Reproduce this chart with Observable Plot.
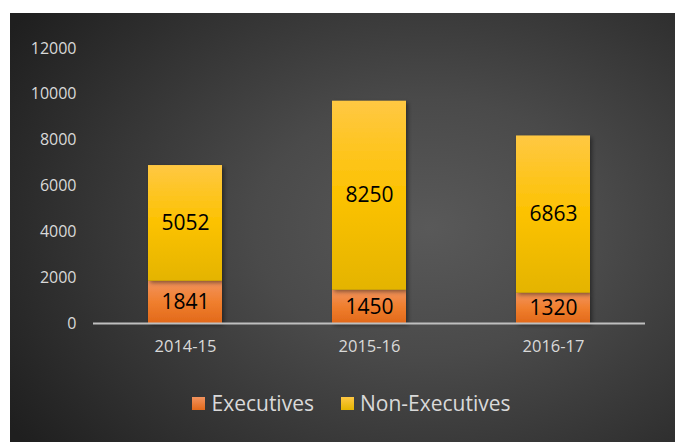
<!DOCTYPE html>
<html>
<head>
<meta charset="utf-8">
<script src="https://cdn.jsdelivr.net/npm/d3@7"></script>
<script src="https://cdn.jsdelivr.net/npm/@observablehq/plot@0.6"></script>
<style>
  html, body { margin: 0; padding: 0; background: #fff; }
  #card {
    position: absolute; left: 10px; top: 13px; width: 665px; height: 429px;
    background: radial-gradient(ellipse 75% 85% at 63% 50%, #595959 0%, #4a4a4a 35%, #333 70%, #1f1f1f 100%);
    font-family: "Open Sans", sans-serif;
    overflow: hidden;
  }
  #legend {
    position: absolute; left: 9px; top: 377px; width: 665px; height: 26px;
    display: flex; justify-content: center; align-items: center; gap: 27px;
    color: #d9d9d9; font-size: 21px;
  }
  #legend .item { display: flex; align-items: center; gap: 6px; }
  #legend .sw { width: 13px; height: 13px; display: inline-block; }
</style>
</head>
<body>
<div id="card"><div id="chart"></div><div id="legend"></div></div>
<script>
const years = ["2014-15", "2015-16", "2016-17"];
const seriesNames = ["Executives", "Non-Executives"];
const executives = [1841, 1450, 1320];
const nonExecutives = [5052, 8250, 6863];
const yTicks = [0, 2000, 4000, 6000, 8000, 10000, 12000];

const data = [];
years.forEach((y, i) => {
  data.push({year: y, series: seriesNames[0], value: executives[i]});
  data.push({year: y, series: seriesNames[1], value: nonExecutives[i]});
});

const defs = () => {
  const g = d3.create("svg:defs");
  const o = g.append("linearGradient").attr("id", "gOrange").attr("x1", 0).attr("y1", 0).attr("x2", 0).attr("y2", 1);
  o.append("stop").attr("offset", "0%").attr("stop-color", "#f2935e");
  o.append("stop").attr("offset", "50%").attr("stop-color", "#f07f2e");
  o.append("stop").attr("offset", "100%").attr("stop-color", "#e2691a");
  const yl = g.append("linearGradient").attr("id", "gYellow").attr("x1", 0).attr("y1", 0).attr("x2", 0).attr("y2", 1);
  yl.append("stop").attr("offset", "0%").attr("stop-color", "#ffc843");
  yl.append("stop").attr("offset", "50%").attr("stop-color", "#fcc200");
  yl.append("stop").attr("offset", "100%").attr("stop-color", "#e4b400");
  const f = g.append("filter").attr("id", "shadow").attr("x", "-20%").attr("y", "-20%").attr("width", "140%").attr("height", "140%");
  f.append("feDropShadow").attr("dx", 2).attr("dy", 2).attr("stdDeviation", 2).attr("flood-color", "#000").attr("flood-opacity", 0.45);
  return g.node();
};

const chart = Plot.plot({
  width: 665,
  height: 370,
  marginLeft: 83,
  marginRight: 30,
  marginTop: 35,
  marginBottom: 60,
  style: {background: "transparent", fontFamily: "'Open Sans', sans-serif", overflow: "visible"},
  x: {domain: years, paddingInner: 0.6, paddingOuter: 0.3, label: null},
  y: {domain: [0, 12000], label: null},
  color: {domain: seriesNames, range: ["url(#gOrange)", "url(#gYellow)"]},
  marks: [
    defs,
    Plot.barY(data, Plot.stackY({x: "year", y: "value", z: "series", fill: "series", order: seriesNames})),
    Plot.ruleY([0], {stroke: "#bfbfbf", strokeWidth: 2}),
    Plot.text(data, Plot.stackY({x: "year", y: "value", z: "series", order: seriesNames, text: d => String(d.value), fill: "#000", fontSize: 21})),
    Plot.axisY({ticks: yTicks, tickSize: 0, tickPadding: 17, tickFormat: d => String(d), fill: "#d9d9d9", fontSize: 16}),
    Plot.axisX({tickSize: 0, tickPadding: 17, fill: "#d9d9d9", fontSize: 16.5, label: null})
  ]
});
chart.querySelectorAll("g[aria-label='bar'] rect").forEach(r => r.setAttribute("filter", "url(#shadow)"));
document.getElementById("chart").appendChild(chart);

const legend = document.getElementById("legend");
const swatchColors = ["linear-gradient(#f2935e, #e2691a)", "linear-gradient(#ffc843, #e4b400)"];
seriesNames.forEach((s, i) => {
  const it = document.createElement("div");
  it.className = "item";
  const sw = document.createElement("span");
  sw.className = "sw";
  sw.style.background = swatchColors[i];
  const t = document.createElement("span");
  t.textContent = s;
  it.appendChild(sw); it.appendChild(t);
  legend.appendChild(it);
});
</script>
</body>
</html>
